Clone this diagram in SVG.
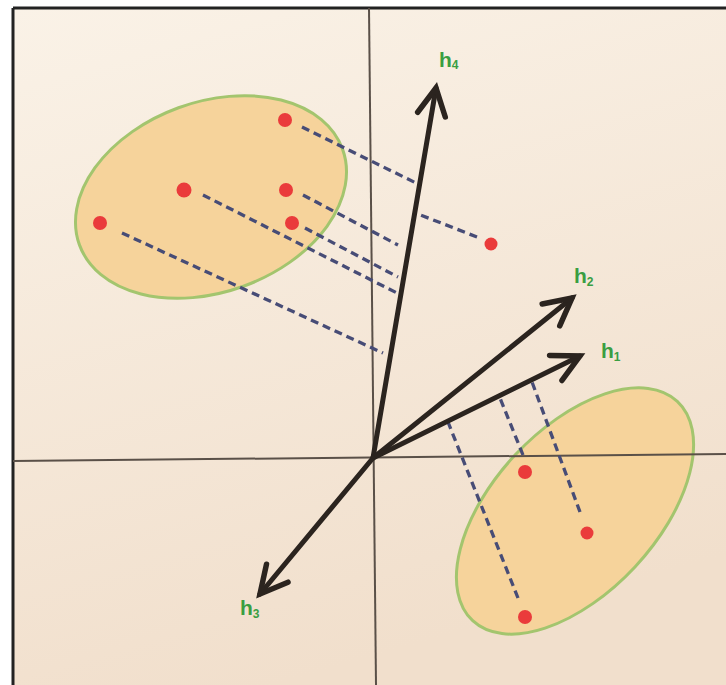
<svg xmlns="http://www.w3.org/2000/svg" width="726" height="685" viewBox="0 0 726 685">
<defs>
<linearGradient id="bg" x1="0" y1="0" x2="0.3" y2="1">
<stop offset="0" stop-color="#faf2e7"/>
<stop offset="1" stop-color="#f1dfcc"/>
</linearGradient>
<marker id="head" markerUnits="userSpaceOnUse" markerWidth="60" markerHeight="60" refX="0" refY="0" viewBox="-40 -30 60 60" orient="auto" overflow="visible">
<path d="M -27 -14 L 0 0 L -27 14" fill="none" stroke="#2b241f" stroke-width="5.5" stroke-linejoin="miter" stroke-linecap="round"/>
</marker>
</defs>
<style>
.axis{stroke:#5a5048;stroke-width:2;fill:none}
.vec{stroke:#2b241f;stroke-width:5;fill:none;stroke-linecap:round;marker-end:url(#head)}
.proj{stroke:#474c76;stroke-width:3.3;fill:none;stroke-dasharray:8 5}
.cluster{fill:#f6d39b;stroke:#a3c56e;stroke-width:3}
.pt{fill:#ea3b3b}
.lbl{font-family:"Liberation Sans",Arial,sans-serif;font-weight:bold;fill:#3a9e42;font-size:21px}
.sub{font-size:12px}
</style>
<rect x="0" y="0" width="726" height="685" fill="#ffffff"/>
<rect x="13" y="8" width="720" height="690" fill="url(#bg)"/>
<line x1="13" y1="8" x2="726" y2="8" stroke="#222" stroke-width="3"/>
<line x1="13" y1="8" x2="13" y2="685" stroke="#222" stroke-width="3"/>

<g id="clusters">
<g id="cluster-upper"><ellipse class="cluster" cx="211" cy="197" rx="140" ry="95" transform="rotate(-20 211 197)"/></g>
<g id="cluster-lower"><ellipse class="cluster" cx="575" cy="511" rx="150" ry="82" transform="rotate(-47 575 511)"/></g>
</g>

<g id="axes">
<line class="axis" x1="369" y1="8" x2="376" y2="685"/>
<line class="axis" x1="13" y1="461" x2="726" y2="454"/>
</g>

<g id="connectors">
<line class="proj" x1="302" y1="127" x2="416" y2="183"/>
<line class="proj" x1="477" y1="237" x2="418" y2="214"/>
<line class="proj" x1="303" y1="195" x2="398" y2="245"/>
<line class="proj" x1="305" y1="228" x2="398" y2="277"/>
<line class="proj" x1="203" y1="195" x2="397" y2="293"/>
<line class="proj" x1="122" y1="233" x2="383" y2="353"/>
<line class="proj" x1="523" y1="455" x2="500" y2="398"/>
<line class="proj" x1="580" y1="512" x2="532" y2="382"/>
<line class="proj" x1="518" y1="598" x2="448" y2="422"/>
</g>

<g id="vectors">
<g id="h4"><line class="vec" x1="373" y1="458" x2="436" y2="88"/></g>
<g id="h2"><line class="vec" x1="373" y1="458" x2="572" y2="298"/></g>
<g id="h1"><line class="vec" x1="373" y1="458" x2="580" y2="356"/></g>
<g id="h3"><line class="vec" x1="373" y1="458" x2="260" y2="594"/></g>
</g>

<g id="points">
<circle class="pt" cx="285" cy="120" r="7"/>
<circle class="pt" cx="184" cy="190" r="7.5"/>
<circle class="pt" cx="286" cy="190" r="7"/>
<circle class="pt" cx="292" cy="223" r="7"/>
<circle class="pt" cx="100" cy="223" r="7"/>
<circle class="pt" cx="491" cy="244" r="6.5"/>
<circle class="pt" cx="525" cy="472" r="7"/>
<circle class="pt" cx="587" cy="533" r="6.5"/>
<circle class="pt" cx="525" cy="617" r="7"/>
</g>

<g id="labels">
<text class="lbl" x="439" y="67">h<tspan class="sub" dy="2">4</tspan></text>
<text class="lbl" x="574" y="283">h<tspan class="sub" dy="3">2</tspan></text>
<text class="lbl" x="601" y="358">h<tspan class="sub" dy="3">1</tspan></text>
<text class="lbl" x="240" y="615">h<tspan class="sub" dy="3">3</tspan></text>
</g>
</svg>
